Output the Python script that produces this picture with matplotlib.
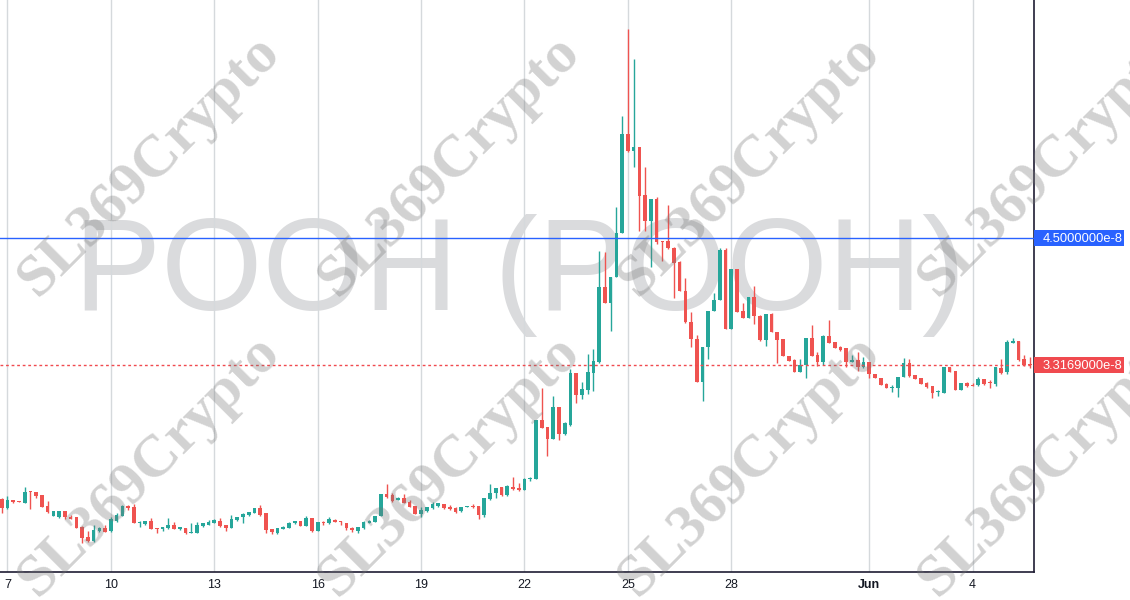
import numpy as np
import pandas as pd
import matplotlib
matplotlib.use("Agg")
import matplotlib.pyplot as plt
import matplotlib.dates as mdates
import matplotlib.transforms as mtransforms
from matplotlib.patches import Rectangle

# ---------------- data (prices in units of 1e-8) ----------------
SCALE = 1e-8
start_time = "2023-05-06 20:00"
period_hours = 4

opens = [2.066, 1.982, 2.057, 2.047, 2.034, 2.137, 2.131, 2.109, 2.006, 1.910,
         1.904, 1.957, 1.904, 1.898, 1.811, 1.715, 1.677, 1.771, 1.801, 1.768,
         1.867, 1.913, 2.003, 1.997, 1.842, 1.839, 1.864, 1.801, 1.786, 1.796,
         1.826, 1.789, 1.801, 1.755, 1.749, 1.817, 1.824, 1.842, 1.864, 1.826,
         1.801, 1.873, 1.898, 1.920, 1.941, 1.982, 1.935, 1.789, 1.755, 1.792,
         1.801, 1.842, 1.864, 1.820, 1.889, 1.773, 1.854, 1.848, 1.873, 1.864,
         1.848, 1.799, 1.771, 1.796, 1.848, 1.852, 1.910, 2.112, 2.106, 2.062,
         2.081, 2.044, 2.003, 1.929, 1.960, 1.988, 2.006, 2.019, 1.997, 1.988,
         1.957, 1.991, 2.003, 2.003, 1.920, 2.069, 2.122, 2.178, 2.106, 2.178,
         2.168, 2.153, 2.252, 2.252, 2.805, 2.742, 2.628, 2.928, 2.671, 2.758,
         3.245, 3.037, 3.084, 3.245, 3.345, 4.046, 3.897, 4.134, 4.544, 5.469,
         5.313, 5.351, 4.901, 4.661, 4.863, 4.475, 4.475, 4.404, 4.276, 4.009,
         3.720, 3.556, 3.161, 3.482, 3.820, 3.922, 4.388, 3.649, 4.211, 3.820,
         3.758, 3.948, 3.773, 3.550, 3.792, 3.622, 3.559, 3.404, 3.363, 3.255,
         3.317, 3.566, 3.410, 3.348, 3.587, 3.528, 3.487, 3.472, 3.342, 3.363,
         3.296, 3.342, 3.233, 3.193, 3.137, 3.100, 3.105, 3.202, 3.333, 3.224,
         3.193, 3.152, 3.121, 3.063, 3.059, 3.296, 3.261, 3.084, 3.152, 3.131,
         3.131, 3.184, 3.156, 3.140, 3.292, 3.255, 3.525, 3.540, 3.370, 3.323]

highs = [2.075, 2.097, 2.059, 2.050, 2.178, 2.143, 2.137, 2.109, 2.047, 1.957,
         1.957, 1.957, 1.920, 1.898, 1.817, 1.771, 1.826, 1.811, 1.826, 1.904,
         1.935, 2.013, 2.013, 2.022, 1.864, 1.861, 1.889, 1.801, 1.811, 1.889,
         1.852, 1.811, 1.801, 1.842, 1.852, 1.848, 1.873, 1.880, 1.889, 1.826,
         1.920, 1.904, 1.935, 1.950, 1.982, 2.013, 1.941, 1.789, 1.801, 1.817,
         1.857, 1.864, 1.864, 1.913, 1.889, 1.854, 1.864, 1.898, 1.882, 1.864,
         1.848, 1.811, 1.811, 1.867, 1.873, 1.913, 2.112, 2.208, 2.122, 2.085,
         2.115, 2.059, 2.003, 1.997, 1.997, 2.038, 2.034, 2.019, 2.013, 1.997,
         1.997, 2.003, 2.019, 2.003, 2.075, 2.208, 2.171, 2.178, 2.199, 2.271,
         2.215, 2.262, 2.276, 2.805, 3.100, 2.742, 3.031, 2.928, 2.783, 3.277,
         3.245, 3.156, 3.419, 3.466, 4.382, 4.370, 4.139, 4.792, 5.637, 6.447,
         6.168, 5.351, 5.164, 4.863, 4.879, 4.475, 4.807, 4.419, 4.286, 4.125,
         3.813, 3.596, 3.482, 3.820, 3.985, 4.404, 4.404, 4.211, 4.211, 3.892,
         3.948, 4.053, 3.783, 3.792, 3.799, 3.622, 3.559, 3.404, 3.373, 3.370,
         3.571, 3.690, 3.441, 3.596, 3.736, 3.528, 3.497, 3.472, 3.410, 3.435,
         3.389, 3.342, 3.233, 3.193, 3.146, 3.131, 3.208, 3.379, 3.373, 3.224,
         3.193, 3.161, 3.121, 3.084, 3.301, 3.296, 3.261, 3.146, 3.161, 3.152,
         3.202, 3.184, 3.177, 3.301, 3.373, 3.550, 3.566, 3.540, 3.410, 3.389]

lows = [1.941, 1.973, 2.029, 2.038, 2.034, 1.978, 2.081, 1.997, 1.935, 1.910,
        1.894, 1.882, 1.882, 1.801, 1.662, 1.671, 1.671, 1.764, 1.761, 1.764,
        1.857, 1.910, 1.966, 1.842, 1.811, 1.824, 1.789, 1.749, 1.773, 1.789,
        1.792, 1.780, 1.740, 1.749, 1.749, 1.811, 1.824, 1.842, 1.805, 1.773,
        1.801, 1.867, 1.848, 1.910, 1.941, 1.910, 1.755, 1.743, 1.743, 1.786,
        1.796, 1.833, 1.820, 1.817, 1.764, 1.773, 1.826, 1.836, 1.852, 1.826,
        1.780, 1.764, 1.755, 1.786, 1.842, 1.852, 1.910, 2.075, 2.044, 2.062,
        2.029, 1.991, 1.929, 1.904, 1.950, 1.976, 1.997, 1.976, 1.966, 1.941,
        1.945, 1.991, 1.982, 1.882, 1.904, 2.059, 2.081, 2.099, 2.099, 2.153,
        2.146, 2.153, 2.239, 2.252, 2.733, 2.472, 2.628, 2.618, 2.665, 2.751,
        2.966, 3.000, 3.047, 3.077, 3.333, 3.897, 3.636, 4.134, 4.544, 5.298,
        5.164, 4.568, 4.568, 4.233, 4.444, 4.289, 4.395, 3.938, 4.009, 3.705,
        3.482, 3.161, 2.984, 3.370, 3.820, 3.922, 3.649, 3.649, 3.813, 3.758,
        3.758, 3.696, 3.543, 3.497, 3.622, 3.333, 3.401, 3.354, 3.255, 3.255,
        3.199, 3.401, 3.310, 3.317, 3.519, 3.478, 3.450, 3.301, 3.342, 3.264,
        3.292, 3.199, 3.193, 3.131, 3.100, 3.063, 3.022, 3.202, 3.208, 3.186,
        3.140, 3.105, 3.012, 3.028, 3.059, 3.249, 3.084, 3.084, 3.115, 3.121,
        3.121, 3.131, 3.105, 3.124, 3.230, 3.230, 3.519, 3.357, 3.308, 3.286]

closes = [1.982, 2.059, 2.041, 2.038, 2.131, 2.131, 2.099, 1.997, 1.945, 1.957,
          1.957, 1.904, 1.885, 1.801, 1.708, 1.680, 1.780, 1.801, 1.764, 1.882,
          1.920, 2.003, 1.982, 1.842, 1.854, 1.861, 1.789, 1.792, 1.808, 1.826,
          1.792, 1.811, 1.749, 1.761, 1.826, 1.842, 1.852, 1.873, 1.817, 1.801,
          1.882, 1.904, 1.929, 1.950, 1.982, 1.920, 1.780, 1.764, 1.796, 1.811,
          1.848, 1.864, 1.820, 1.889, 1.771, 1.854, 1.848, 1.880, 1.857, 1.852,
          1.796, 1.780, 1.805, 1.857, 1.864, 1.913, 2.112, 2.090, 2.053, 2.081,
          2.034, 1.997, 1.929, 1.966, 1.991, 2.019, 2.029, 1.988, 1.976, 1.950,
          1.994, 2.003, 1.994, 1.920, 2.075, 2.127, 2.171, 2.106, 2.193, 2.162,
          2.153, 2.255, 2.267, 2.805, 2.733, 2.628, 2.928, 2.674, 2.774, 3.245,
          3.037, 3.093, 3.255, 3.354, 4.046, 3.897, 4.139, 4.544, 5.469, 5.313,
          5.345, 4.894, 4.661, 4.863, 4.466, 4.466, 4.404, 4.270, 4.009, 3.720,
          3.556, 3.161, 3.482, 3.820, 3.922, 4.388, 3.649, 4.211, 3.813, 3.758,
          3.948, 3.773, 3.550, 3.792, 3.622, 3.550, 3.401, 3.354, 3.255, 3.317,
          3.571, 3.401, 3.342, 3.590, 3.525, 3.478, 3.457, 3.342, 3.363, 3.296,
          3.342, 3.230, 3.193, 3.131, 3.105, 3.115, 3.202, 3.333, 3.214, 3.186,
          3.140, 3.115, 3.059, 3.077, 3.301, 3.255, 3.084, 3.146, 3.124, 3.124,
          3.186, 3.140, 3.146, 3.296, 3.245, 3.528, 3.540, 3.363, 3.317, 3.3169]

alert_price = 4.5          # blue horizontal line (x1e-8)
y_min, y_max = 1.3885, 6.7171   # visible price range (x1e-8)

tick_dates = ["2023-05-07", "2023-05-10", "2023-05-13", "2023-05-16", "2023-05-19",
              "2023-05-22", "2023-05-25", "2023-05-28", "2023-06-01", "2023-06-04"]
tick_labels = ["7", "10", "13", "16", "19", "22", "25", "28", "Jun", "4"]

title_watermark = "POOH (POOH)"
brand_watermark = "SL369Crypto"

# ---------------- styling ----------------
UP = "#26a69a"
DOWN = "#ef5350"
BLUE = "#2962ff"
LABEL_RED = "#f04a4f"
TEXT = "#131722"
GRID = "#d5d9dc"
FONT = ["Liberation Sans", "DejaVu Sans"]

W, H = 1130, 600
fig = plt.figure(figsize=(W / 100, H / 100), dpi=100)
ax_left, ax_bottom, ax_w, ax_h = 0, 28, 1034, 572
ax = fig.add_axes([ax_left / W, ax_bottom / H, ax_w / W, ax_h / H])
fig.patch.set_facecolor("white")
ax.set_facecolor("white")

o = np.array(opens) * SCALE
h = np.array(highs) * SCALE
l = np.array(lows) * SCALE
c = np.array(closes) * SCALE
times = pd.date_range(start_time, periods=len(opens), freq=f"{period_hours}h")
x = mdates.date2num(times.to_pydatetime())
step = period_hours / 24.0

ax.set_xlim(x[0] - 0.296 * step, x[-1] + 0.69 * step)
ax.set_ylim(y_min * SCALE, y_max * SCALE)

# big title watermark (behind everything)
ax.text(0.503, 0.458, title_watermark, transform=ax.transAxes, ha="center",
        va="baseline", fontsize=94, color="#dadbdd", family=FONT, zorder=0)

# vertical grid
tick_x = mdates.date2num(pd.to_datetime(tick_dates).to_pydatetime())
for tx in tick_x:
    ax.axvline(tx, color=GRID, lw=1, zorder=1)

# candles
up = c >= o
colors = np.where(up, UP, DOWN)
wick_hi = np.maximum(h, np.maximum(o, c))
wick_lo = np.minimum(l, np.minimum(o, c))
ax.vlines(x, wick_lo, wick_hi, colors=colors, lw=1, zorder=3)
px_data = (y_max - y_min) * SCALE / ax_h
body_bottom = np.minimum(o, c)
body_height = np.maximum(np.abs(c - o), 1.0 * px_data)
ax.bar(x, body_height, bottom=body_bottom, width=0.64 * step, color=colors,
       linewidth=0, zorder=4)

# horizontal lines
ax.axhline(alert_price * SCALE, color=BLUE, lw=1, zorder=5)
ax.axhline(c[-1], color=LABEL_RED, lw=1, ls=(0, (2, 2)), zorder=5)

# axis styling
for s in ["left", "top"]:
    ax.spines[s].set_visible(False)
for s in ["right", "bottom"]:
    ax.spines[s].set_color("#1f1d33")
    ax.spines[s].set_linewidth(1.2)
ax.set_yticks([])
ax.set_xticks(tick_x)
ax.set_xticklabels(tick_labels)
ax.tick_params(axis="x", length=0, pad=5, labelsize=9, colors=TEXT)
for lab in ax.get_xticklabels():
    lab.set_family(FONT)
    if not lab.get_text().isdigit():
        lab.set_fontweight("bold")

# price labels on the right
blend = mtransforms.blended_transform_factory(ax.transAxes, ax.transData)
box_h = 16 * px_data
box_w = 90 / ax_w
for price, col in [(alert_price * SCALE, BLUE), (c[-1], LABEL_RED)]:
    ax.add_patch(Rectangle((1.0, price - box_h / 2), box_w, box_h, transform=blend,
                           facecolor=col, edgecolor="none", clip_on=False, zorder=6))
    ax.text(1.0 + 9 / ax_w, price, f"{price:.7e}".replace("e-08", "e-8"),
            transform=blend, ha="left", va="center_baseline", color="white",
            fontsize=9.3, family=FONT, clip_on=False, zorder=7)

# repeated brand watermark on top
for cx in [150, 450, 750, 1050]:
    for cy in [166, 466]:
        fig.text(cx / W, 1 - cy / H, brand_watermark, rotation=45, ha="center",
                 va="center", rotation_mode="anchor", fontsize=43,
                 fontweight="bold", family=["Liberation Serif", "DejaVu Serif"],
                 color="#777777", alpha=0.33, zorder=10)

fig.savefig("out.png", dpi=100, facecolor="white")
